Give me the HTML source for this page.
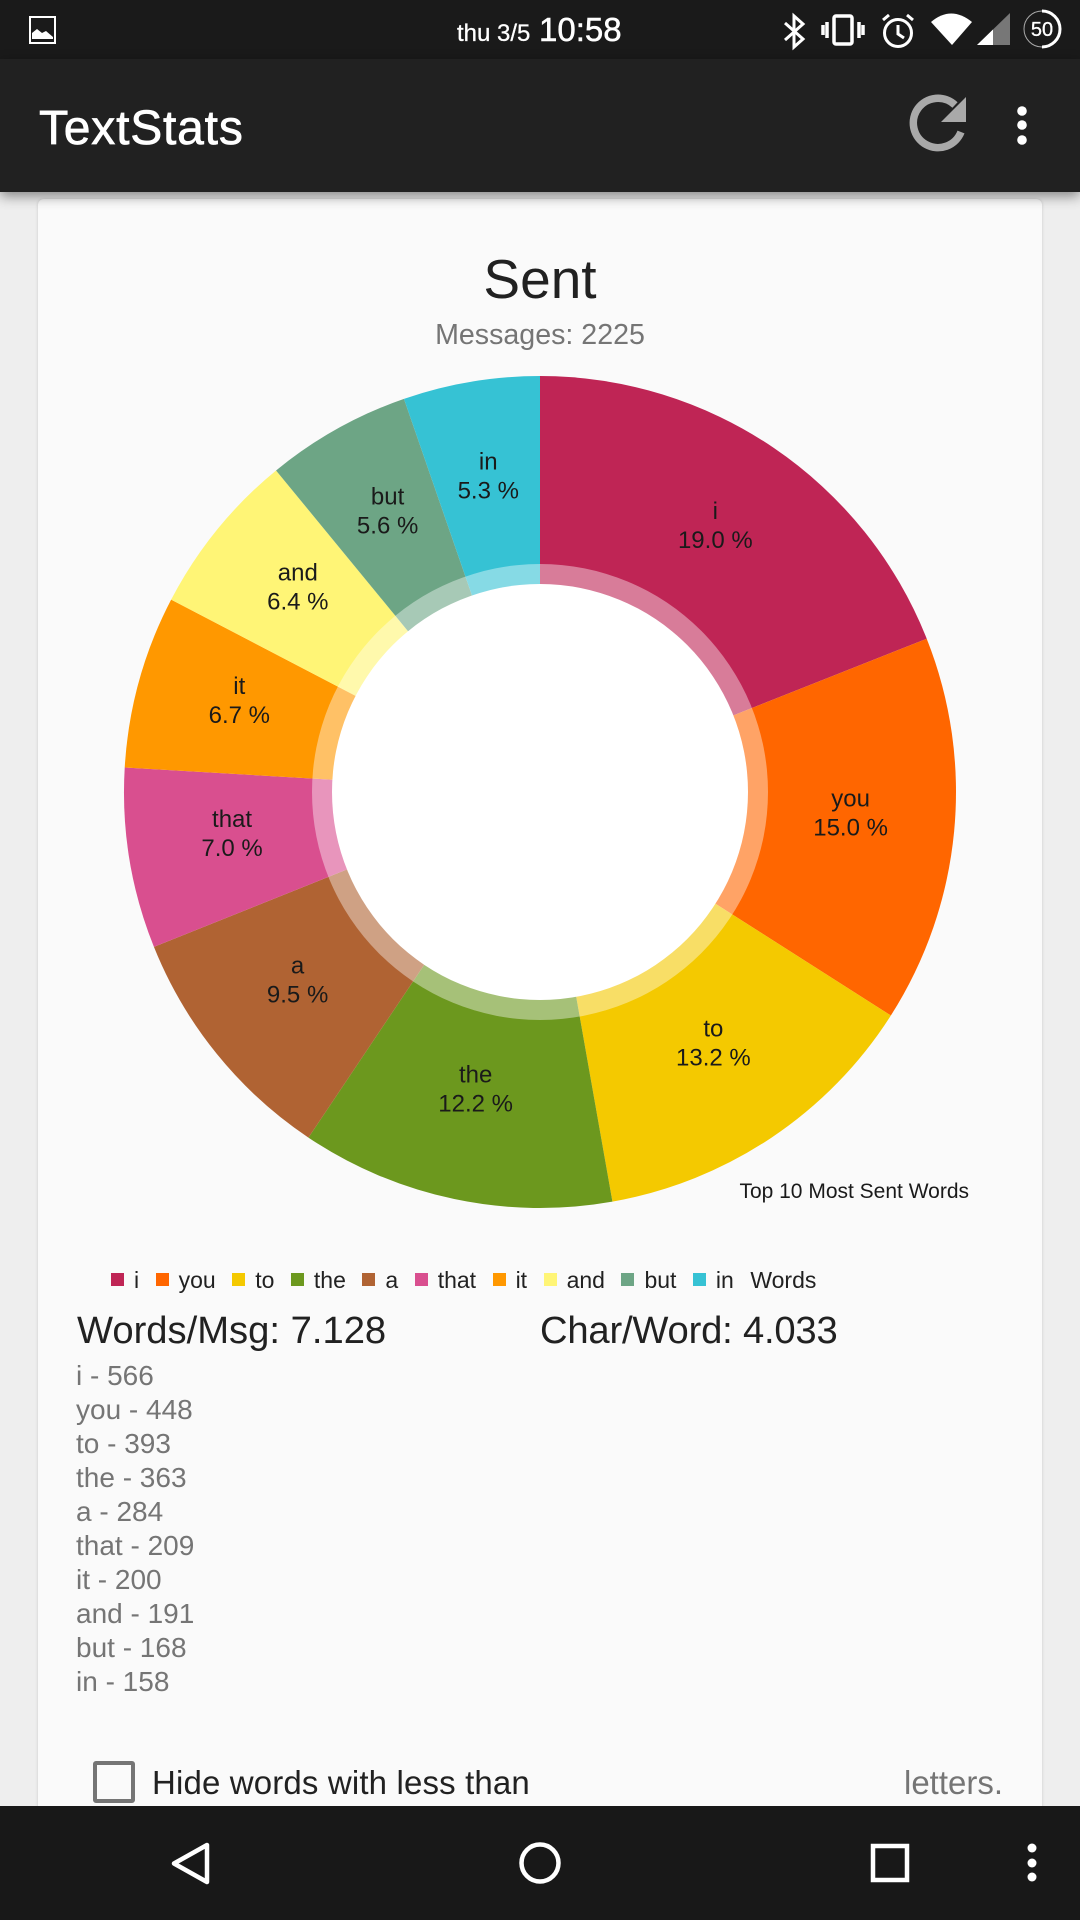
<!DOCTYPE html>
<html lang="en">
<head>
<meta charset="utf-8">
<title>TextStats</title>
<style>
html,body{margin:0;padding:0;background:#eeeeee;}
#root{position:relative;width:1080px;height:1920px;overflow:hidden;background:#eeeeee;font-family:"Liberation Sans",sans-serif;}
.abs{position:absolute;white-space:nowrap;line-height:1;}
#status{position:absolute;left:0;top:0;width:1080px;height:59px;background:#1a1a1a;}
#appbar{position:absolute;left:0;top:59px;width:1080px;height:133px;background:#212121;box-shadow:0 4px 12px rgba(0,0,0,.45);z-index:3;}
#card{position:absolute;left:38px;top:199px;width:1004px;height:1700px;background:#fafafa;border-radius:6px;box-shadow:0 0 3px rgba(0,0,0,.15);}
#nav{position:absolute;left:0;top:1806px;width:1080px;height:114px;background:#181818;z-index:3;}
#legend{position:absolute;left:111px;top:1264px;display:flex;align-items:center;height:32px;font-size:23px;color:#212121;white-space:nowrap;}
#word-list{position:absolute;left:76px;top:1359px;font-size:28px;line-height:34px;color:#757575;}
svg{position:absolute;left:0;top:0;}
</style>
</head>
<body>
<div id="root">
  <div id="card"></div>

  <div id="status"></div>
  <div id="appbar"></div>

  <svg width="1080" height="192" style="z-index:4">
    <g>
      <rect x="30" y="17" width="25" height="26" fill="none" stroke="#fff" stroke-width="2"/>
      <path d="M32 39 V33 L37 29 L42 33 L46 31 L53 37 V39 Z" fill="#fff"/>
    </g>
    <text x="457" y="41" font-size="24" fill="#fff" stroke="#fff" stroke-width=".3">thu 3/5</text>
    <text x="539" y="41" font-size="33" fill="#fff" stroke="#fff" stroke-width=".5">10:58</text>
    <path d="M785 23 L803 39 L794 47 V16 L803 24 L785 40" fill="none" stroke="#fff" stroke-width="3"/>
    <g fill="none" stroke="#fff" stroke-width="3.5">
      <rect x="834" y="16" width="18" height="28" rx="2"/>
      <path d="M827 22 V38 M859 22 V38 M823 25 V35 M863 25 V35"/>
    </g>
    <g fill="none" stroke="#fff" stroke-width="3">
      <circle cx="898" cy="33" r="13.5"/>
      <path d="M898 25 V34 L904 38 M883 20 L889 15 M913 20 L907 15"/>
    </g>
    <path d="M931 22 Q951 5 972 22 L952 45 Z" fill="#fff"/>
    <g>
      <path d="M977 45 L1010 13 V45 Z" fill="#777"/>
      <path d="M977 45 L993 29.5 V45 Z" fill="#fff"/>
    </g>
    <g>
      <circle cx="1042" cy="29" r="18" fill="none" stroke="#aaa" stroke-width="1"/>
      <path d="M1042 11 A18 18 0 0 1 1042 47" fill="none" stroke="#fff" stroke-width="3"/>
      <text x="1042" y="36" font-size="20" fill="#fff" stroke="#fff" stroke-width=".3" text-anchor="middle">50</text>
    </g>
    <text x="39" y="144" font-size="48" letter-spacing=".8" fill="#fff" stroke="#fff" stroke-width=".7">TextStats</text>
    <g>
      <path d="M955 105 A24.7 24.7 0 1 0 961 132" fill="none" stroke="#a9a9a9" stroke-width="7.5"/>
      <path d="M966 97 V122 H941 Z" fill="#a9a9a9"/>
    </g>
    <g fill="#fff">
      <circle cx="1022" cy="111" r="4.8"/><circle cx="1022" cy="125" r="4.8"/><circle cx="1022" cy="140" r="4.8"/>
    </g>
  </svg>

  <div class="abs" style="left:0;width:1080px;text-align:center;top:252px;font-size:55px;color:#212121">Sent</div>
  <div class="abs" style="left:0;width:1080px;text-align:center;top:321px;font-size:28.6px;color:#757575">Messages: 2225</div>

  <svg id="chart" width="1080" height="1300"></svg>
  <svg width="1080" height="1300" style="pointer-events:none">
    <text x="969" y="1198" font-size="21" fill="#1a1a1a" text-anchor="end">Top 10 Most Sent Words</text>
  </svg>

  <div id="legend"></div>

  <div class="abs" style="left:77px;top:1312px;font-size:38.2px;color:#212121">Words/Msg: 7.128</div>
  <div class="abs" style="left:540px;top:1312px;font-size:38.2px;letter-spacing:-.2px;color:#212121">Char/Word: 4.033</div>

  <div id="word-list"></div>

  <div class="abs" style="left:93px;top:1761px;width:34px;height:34px;border:4px solid #757575;border-radius:3px;box-sizing:content-box"></div>
  <div class="abs" style="left:152px;top:1766px;font-size:33px;letter-spacing:.15px;color:#212121">Hide words with less than</div>
  <div class="abs" style="left:904px;top:1766px;font-size:33px;color:#757575">letters.</div>

  <div id="nav"></div>
  <svg width="1080" height="1920" style="z-index:4;pointer-events:none">
    <path d="M207 1845 V1882 L174 1863.5 Z" fill="none" stroke="#fff" stroke-width="4.5" stroke-linejoin="round"/>
    <circle cx="540" cy="1863" r="18.5" fill="none" stroke="#fff" stroke-width="4.5"/>
    <rect x="873" y="1846" width="34" height="34" fill="none" stroke="#fff" stroke-width="4.5"/>
    <g fill="#fff">
      <circle cx="1032" cy="1848" r="4.5"/><circle cx="1032" cy="1863" r="4.5"/><circle cx="1032" cy="1877" r="4.5"/>
    </g>
  </svg>
</div>

<script>
const categories = ["i", "you", "to", "the", "a", "that", "it", "and", "but", "in"];
const wordCounts = [566, 448, 393, 363, 284, 209, 200, 191, 168, 158];
const sliceColors = ["#BF2555", "#FF6600", "#F4C900", "#6C981E", "#B06333", "#D94F8F", "#FF9800", "#FFF576", "#6DA585", "#36C2D4"];
const legendSuffix = "Words";

const NS = "http://www.w3.org/2000/svg";
const chart = document.getElementById("chart");
const CX = 540, CY = 792, R_OUTER = 416, R_HOLE = 208, R_RING = 228, R_LABEL = 312;
const total = wordCounts.reduce(function (a, b) { return a + b; }, 0);

function angleOf(cumulative) { return cumulative / total * 2 * Math.PI; }
function px(a, r) { return CX + r * Math.sin(a); }
function py(a, r) { return CY - r * Math.cos(a); }
function arcPath(a0, a1, r) {
  const large = a1 - a0 > Math.PI ? 1 : 0;
  return "M" + CX + " " + CY + " L" + px(a0, r) + " " + py(a0, r) +
    " A" + r + " " + r + " 0 " + large + " 1 " + px(a1, r) + " " + py(a1, r) + " Z";
}

let cumulative = 0;
wordCounts.forEach(function (v, i) {
  const a0 = angleOf(cumulative);
  const a1 = angleOf(cumulative + v);
  cumulative += v;
  const slice = document.createElementNS(NS, "path");
  slice.setAttribute("d", arcPath(a0, a1, R_OUTER));
  slice.setAttribute("fill", sliceColors[i]);
  
  
  chart.appendChild(slice);
});

const ring = document.createElementNS(NS, "circle");
ring.setAttribute("cx", CX);
ring.setAttribute("cy", CY);
ring.setAttribute("r", R_RING);
ring.setAttribute("fill", "rgba(255,255,255,0.4)");


chart.appendChild(ring);

const hole = document.createElementNS(NS, "circle");
hole.setAttribute("cx", CX);
hole.setAttribute("cy", CY);
hole.setAttribute("r", R_HOLE);
hole.setAttribute("fill", "#ffffff");


chart.appendChild(hole);

cumulative = 0;
wordCounts.forEach(function (v, i) {
  const mid = angleOf(cumulative + v / 2);
  cumulative += v;
  const x = px(mid, R_LABEL);
  const y = py(mid, R_LABEL);
  const nameText = document.createElementNS(NS, "text");
  nameText.setAttribute("x", x);
  nameText.setAttribute("y", y - 15);
  nameText.setAttribute("text-anchor", "middle");
  nameText.setAttribute("font-size", "24");
  nameText.setAttribute("fill", "#1a1a1a");
  nameText.textContent = categories[i];
  
  
  chart.appendChild(nameText);
  const pctText = document.createElementNS(NS, "text");
  pctText.setAttribute("x", x);
  pctText.setAttribute("y", y + 14);
  pctText.setAttribute("text-anchor", "middle");
  pctText.setAttribute("font-size", "24");
  pctText.setAttribute("fill", "#1a1a1a");
  pctText.textContent = (v / total * 100).toFixed(1) + " %";
  
  
  chart.appendChild(pctText);
});

const legend = document.getElementById("legend");
categories.forEach(function (c, i) {
  const swatch = document.createElement("span");
  swatch.style.cssText = "display:inline-block;width:13px;height:13px;margin-right:10px;margin-top:-2px;background:" + sliceColors[i];
  
  
  legend.appendChild(swatch);
  const label = document.createElement("span");
  label.style.marginRight = "16.5px";
  label.textContent = c;
  
  
  legend.appendChild(label);
});
const suffix = document.createElement("span");
suffix.textContent = legendSuffix;


legend.appendChild(suffix);

const list = document.getElementById("word-list");
categories.forEach(function (c, i) {
  const row = document.createElement("div");
  row.textContent = c + " - " + wordCounts[i];
  
  
  list.appendChild(row);
});
</script>
</body>
</html>
